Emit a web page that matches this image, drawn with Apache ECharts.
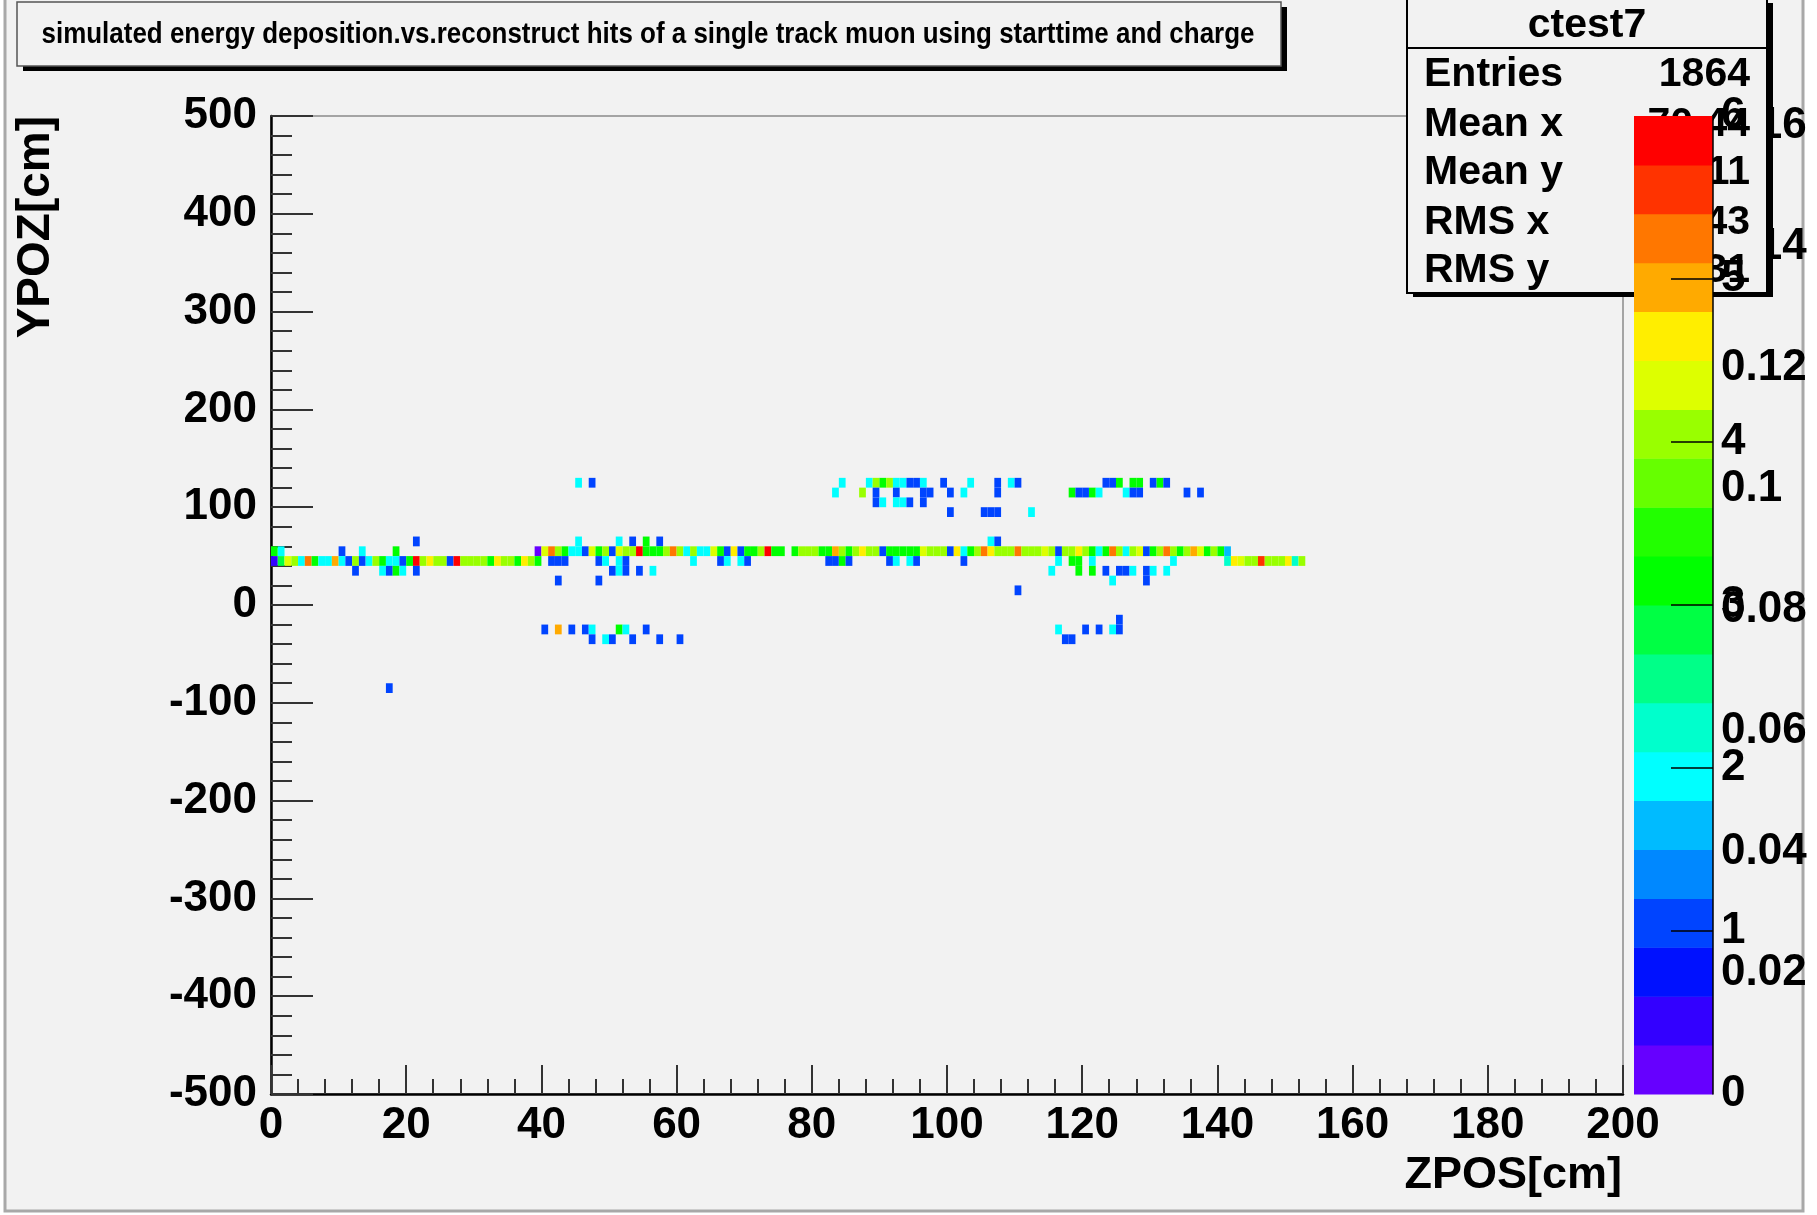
<!DOCTYPE html>
<html>
<head>
<meta charset="utf-8">
<script src="https://cdn.jsdelivr.net/npm/echarts@6/dist/echarts.min.js"></script>
<style>
html,body{margin:0;padding:0;background:#ffffff;}
#chart{width:1817px;height:1215px;}
</style>
</head>
<body>
<div id="chart"></div>
<script>
// ---------------- DATA ----------------
const titleText = 'simulated energy deposition.vs.reconstruct hits of a single track muon using starttime and charge';
const xAxisTitle = 'ZPOS[cm]';
const yAxisTitle = 'YPOZ[cm]';
const statsTitle = 'ctest7';
const statsLabels = ['Entries', 'Mean x', 'Mean y', 'RMS x', 'RMS y'];
const statsValues = ['1864', '70.44', '45.11', '40.43', '21.31'];

// histogram binning (cm)
const xBinWidth = 1;
const yBinWidth = 10;

// cells per y-bin row: [x bin lower edge, content]
const rowY120 = [[45,2.0],[47,1.0],[84,2.0],[88,2.0],[89,4.0],[90,3.1],[91,4.0],[92,2.0],[93,2.0],[94,1.0],[95,1.0],[96,2.0],[99,1.0],[103,2.0],[107,1.0],[109,2.0],[110,1.0],[123,1.0],[124,1.0],[125,3.1],[127,3.1],[128,3.1],[130,1.0],[131,3.1],[132,1.0]];
const rowY110 = [[83,2.0],[87,4.0],[89,1.0],[92,1.0],[96,1.0],[97,1.0],[100,1.0],[102,2.0],[107,1.0],[118,3.1],[119,1.0],[120,1.0],[121,3.1],[122,2.0],[126,2.0],[127,1.0],[128,1.0],[135,1.0],[137,1.0]];
const rowY100 = [[89,1.0],[90,2.0],[92,2.0],[93,2.0],[94,1.0],[96,1.0]];
const rowY90 = [[100,1.0],[105,1.0],[106,1.0],[107,1.0],[112,2.0]];
const rowY60 = [[21,1.0],[45,2.0],[51,2.0],[53,1.0],[55,3.1],[57,1.0],[106,2.0],[107,1.0]];
const rowY50 = [[0,3.1],[1,2.0],[10,1.0],[13,2.0],[18,3.1],
  [39,0.15],[40,4.3],[41,5.2],[42,4.0],[43,3.1],[44,2.0],[45,2.0],[46,1.0],[47,4.3],[48,3.1],[49,4.0],[50,1.0],
  [51,4.3],[52,4.0],[53,4.0],[54,5.8],[55,3.1],[56,3.1],[57,3.1],[58,4.0],[59,5.2],[60,4.0],[61,2.0],[62,4.0],
  [63,2.0],[64,2.0],[65,4.3],[66,3.1],[67,1.0],[68,4.6],[69,1.0],[70,3.1],[71,3.1],[72,4.0],[73,5.8],[74,3.1],
  [75,3.1],[77,3.1],[78,4.0],[79,4.0],[80,4.0],[81,3.1],[82,3.1],[83,4.9],[84,4.0],[85,3.1],[86,4.0],[87,4.6],
  [88,4.0],[89,4.0],[90,1.0],[91,3.1],[92,3.1],[93,3.1],[94,3.1],[95,3.1],[96,4.3],[97,4.0],[98,4.0],[99,4.0],
  [100,1.0],[101,4.6],[102,2.0],[103,3.1],[104,4.0],[105,5.2],[106,4.6],[107,4.0],[108,4.0],[109,4.0],[110,5.2],
  [111,4.0],[112,4.0],[113,4.0],[114,4.3],[115,4.0],[116,1.0],[117,4.0],[118,4.0],[119,4.6],[120,4.0],[121,3.1],
  [122,2.0],[123,3.1],[124,5.2],[125,4.0],[126,2.0],[127,4.0],[128,4.3],[129,1.0],[130,3.1],[131,4.0],[132,5.2],
  [133,4.0],[134,3.1],[135,4.0],[136,4.9],[137,4.3],[138,3.1],[139,4.0],[140,3.1],[141,1.6]];
const rowY40 = [[0,0.45],[1,2.8],[2,4.3],[3,4.0],[4,2.0],[5,5.2],[6,3.1],[7,2.0],[8,2.0],[9,4.9],[10,2.0],[11,1.0],
  [12,4.0],[13,1.0],[14,2.0],[15,4.0],[16,3.1],[17,2.0],[18,2.0],[19,1.0],[20,3.1],[21,5.8],[22,4.0],[23,4.6],
  [24,4.0],[25,4.0],[26,1.0],[27,5.8],[28,4.0],[29,4.0],[30,4.0],[31,4.0],[32,3.1],[33,4.6],[34,4.0],[35,4.0],
  [36,3.1],[37,4.6],[38,4.0],[39,3.1],
  [41,1.0],[42,1.0],[43,1.0],[48,1.0],[49,2.0],[51,2.0],[52,1.0],[62,2.0],[66,1.0],[67,2.0],[69,2.0],[70,1.0],
  [82,1.0],[83,1.0],[84,3.1],[85,1.0],[91,1.0],[92,2.0],[94,2.0],[95,1.0],[102,1.0],[116,2.0],[118,3.1],[119,3.1],
  [121,2.0],[133,2.0],
  [141,2.2],[142,4.6],[143,4.3],[144,4.0],[145,4.0],[146,5.5],[147,4.0],[148,4.0],[149,4.0],[150,4.6],[151,2.2],[152,4.0]];
const rowY30 = [[12,1.0],[16,2.0],[17,1.0],[18,3.1],[19,2.0],[21,1.0],[50,1.0],[51,2.0],[52,1.0],[54,1.0],[56,2.0],
  [115,2.0],[119,3.1],[121,3.1],[123,1.0],[125,1.0],[126,1.0],[127,2.0],[129,1.0],[130,2.0],[132,2.0]];
const rowY20 = [[42,1.0],[48,1.0],[124,2.0],[129,1.0]];
const rowY10 = [[110,1.0]];
const rowYm20 = [[125,1.0]];
const rowYm30 = [[40,1.0],[42,4.9],[44,1.0],[46,1.0],[47,2.0],[51,3.1],[52,2.0],[55,1.0],[116,2.0],[120,1.0],[122,1.0],[124,2.0],[125,1.0]];
const rowYm40 = [[47,1.0],[49,2.0],[50,1.0],[53,1.0],[57,1.0],[60,1.0],[117,1.0],[118,1.0]];
const rowYm90 = [[17,1.0]];

const rows = [
  [120,rowY120],[110,rowY110],[100,rowY100],[90,rowY90],[60,rowY60],[50,rowY50],[40,rowY40],
  [30,rowY30],[20,rowY20],[10,rowY10],[-20,rowYm20],[-30,rowYm30],[-40,rowYm40],[-90,rowYm90]
];

// palette (20 contour colours, bottom -> top)
const paletteColors = ['#6600ff','#3300ff','#0011ff','#0044ff','#0088ff','#00bbff','#00ffff','#00ffcc','#00ff88','#00ff44',
  '#00ff00','#22ff00','#66ff00','#99ff00','#ddff00','#ffee00','#ffaa00','#ff7700','#ff3300','#ff0000'];
const paletteEdges = [0,0.3,0.6,0.9,1.2,1.5,1.8,2.1,2.4,2.7,3.0,3.3,3.6,3.9,4.2,4.5,4.8,5.1,5.4,5.7,6.0];
const zTicks = [1,2,3,4,5];
const zLabels = [0,1,2,3,4,5,6];
const z2Max = 0.1617;
const z2Labels = [0.02,0.04,0.06,0.08,0.1,0.12,0.14,0.16];

// ---------------- BUILD ----------------
const cells = [];
rows.forEach(function(r){ r[1].forEach(function(c){ cells.push([c[0], r[0], c[1]]); }); });
const paletteData = paletteColors.map(function(c,i){ return [paletteEdges[i], paletteEdges[i+1], i]; });

function colorFor(v){
  for (let i = 0; i < paletteColors.length; i++) {
    if (v < paletteEdges[i+1]) return paletteColors[i];
  }
  return paletteColors[paletteColors.length-1];
}

const FONT = '"Liberation Sans", Arial, Helvetica, sans-serif';
const chart = echarts.init(document.getElementById('chart'), null, {renderer:'canvas'});

const barRect = {left:1634, top:116, width:79, height:978};
const statsRowY = [75,125,173,223,271];

const option = {
  backgroundColor: '#ffffff',
  animation: false,
  grid: [
    {left:271, top:116, width:1352, height:978, show:true, borderColor:'#8a8a8a', borderWidth:1.5, backgroundColor:'transparent', z:0},
    Object.assign({show:false}, barRect),
    Object.assign({show:false}, barRect)
  ],
  xAxis: [
    {gridIndex:0, type:'value', min:0, max:200, interval:20,
      axisLine:{show:true, onZero:false, lineStyle:{color:'#000', width:2.5}},
      axisTick:{show:true, inside:true, length:29, lineStyle:{color:'#333', width:2}},
      minorTick:{show:true, splitNumber:5, length:15, lineStyle:{color:'#333', width:2}},
      splitLine:{show:false},
      axisLabel:{color:'#000', fontFamily:FONT, fontWeight:'bold', fontSize:44, margin:10}
    },
    {gridIndex:1, type:'value', min:0, max:1, show:false},
    {gridIndex:2, type:'value', min:0, max:1, show:false}
  ],
  yAxis: [
    {gridIndex:0, type:'value', min:-500, max:500, interval:100,
      axisLine:{show:true, onZero:false, lineStyle:{color:'#000', width:2.5}},
      axisTick:{show:true, inside:true, length:42, lineStyle:{color:'#333', width:2}},
      minorTick:{show:true, splitNumber:5, length:21, lineStyle:{color:'#333', width:2}},
      splitLine:{show:false},
      axisLabel:{color:'#000', fontFamily:FONT, fontWeight:'bold', fontSize:44, margin:14}
    },
    {gridIndex:1, type:'value', position:'right', min:0, max:6, z:12,
      axisLine:{show:true, onZero:false, lineStyle:{color:'#000', width:1.5}},
      axisTick:{show:true, inside:true, length:42, customValues:zTicks, lineStyle:{color:'#000', width:1.5}},
      splitLine:{show:false},
      axisLabel:{show:true, customValues:zLabels, color:'#000', fontFamily:FONT, fontWeight:'bold', fontSize:44, margin:8}
    },
    {gridIndex:2, type:'value', position:'right', min:0, max:z2Max, z:1,
      axisLine:{show:false}, axisTick:{show:false}, splitLine:{show:false},
      axisLabel:{show:true, customValues:z2Labels, color:'#000', fontFamily:FONT, fontWeight:'bold', fontSize:44, margin:8,
        formatter:function(v){ return String(+(+v).toFixed(2)); }}
    }
  ],
  series: [
    {type:'custom', xAxisIndex:0, yAxisIndex:0, data:cells, z:3,
      encode:{x:0, y:1},
      renderItem:function(params, api){
        const x0 = api.value(0), y0 = api.value(1), v = api.value(2);
        const p0 = api.coord([x0, y0 + yBinWidth]);
        const p1 = api.coord([x0 + xBinWidth, y0]);
        return {type:'rect', shape:{x:p0[0], y:p0[1], width:p1[0]-p0[0], height:p1[1]-p0[1]},
          style:{fill:colorFor(v)}};
      }
    },
    {type:'custom', xAxisIndex:1, yAxisIndex:1, data:paletteData, z:10,
      encode:{y:[0,1]},
      renderItem:function(params, api){
        const lo = api.value(0), hi = api.value(1), i = api.value(2);
        const p0 = api.coord([0, hi]);
        const p1 = api.coord([1, lo]);
        return {type:'rect', shape:{x:p0[0], y:p0[1], width:p1[0]-p0[0], height:p1[1]-p0[1]+0.5},
          style:{fill:paletteColors[i]}};
      }
    }
  ],
  graphic: [
    // canvas area
    {type:'rect', z:-10, silent:true, shape:{x:5, y:-5, width:1798, height:1216},
      style:{fill:'#f2f2f2', stroke:'#a8a8a8', lineWidth:3}},
    // title box
    {type:'rect', z:20, shape:{x:23, y:7, width:1264, height:64}, style:{fill:'#000'}},
    {type:'rect', z:21, shape:{x:17, y:2, width:1264, height:64}, style:{fill:'#f2f2f2', stroke:'#555', lineWidth:1.5}},
    {type:'group', z:22, x:648, y:35, scaleX:0.895, scaleY:1, children:[
      {type:'text', z:22, x:0, y:0, style:{text:titleText, fill:'#000', align:'center', verticalAlign:'middle',
        font:'bold 29px "Liberation Sans", Arial, sans-serif'}}
    ]},
    // stats box
    {type:'rect', z:5, shape:{x:1413, y:3, width:360, height:294}, style:{fill:'#000'}},
    {type:'rect', z:6, shape:{x:1407, y:-3, width:360, height:296}, style:{fill:'#f2f2f2', stroke:'#000', lineWidth:2}},
    {type:'line', z:7, shape:{x1:1407, y1:48, x2:1767, y2:48}, style:{stroke:'#000', lineWidth:2}},
    {type:'text', z:7, x:1587, y:26, style:{text:statsTitle, fill:'#000', align:'center', verticalAlign:'middle', font:'bold 41px ' + FONT}},
    {type:'group', z:7, children: statsLabels.map(function(lab, i){
      return {type:'text', z:7, x:1424, y:statsRowY[i], style:{text:lab, fill:'#000', align:'left', verticalAlign:'middle', font:'bold 41px ' + FONT}};
    })},
    {type:'group', z:7, children: statsValues.map(function(val, i){
      return {type:'text', z:7, x:1750, y:statsRowY[i], style:{text:val, fill:'#000', align:'right', verticalAlign:'middle', font:'bold 41px ' + FONT}};
    })},
    // axis titles
    {type:'text', z:8, x:1622, y:1176, style:{text:xAxisTitle, fill:'#000', align:'right', verticalAlign:'middle', font:'bold 45px ' + FONT}},
    {type:'text', z:8, x:36, y:116, rotation:Math.PI/2, style:{text:yAxisTitle, fill:'#000', align:'right', verticalAlign:'middle', font:'bold 46px ' + FONT}}
  ]
};
chart.setOption(option);
</script>
</body>
</html>
